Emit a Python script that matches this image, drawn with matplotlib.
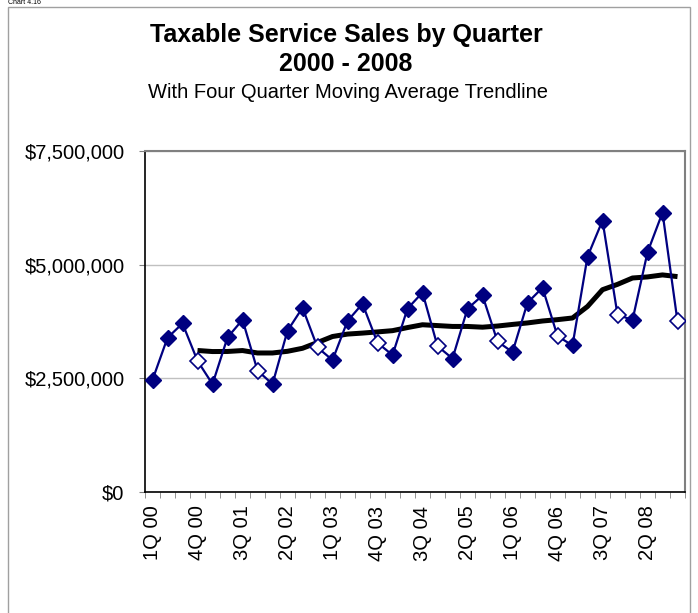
import matplotlib
matplotlib.use('Agg')
import matplotlib.pyplot as plt
from matplotlib.patches import Rectangle
import pandas as pd

# quarterly taxable service sales, 1Q 2000 .. 4Q 2008 (dollars)
quarters = [f'{q}Q {y:02d}' for y in range(0, 9) for q in range(1, 5)]
sales = [
    2462000, 3388000, 3704000, 2881000,   # 2000
    2368000, 3395000, 3785000, 2667000,   # 2001
    2368000, 3543000, 4050000, 3175000,   # 2002
    2897000, 3757000, 4138000, 3278000,   # 2003
    3007000, 4030000, 4385000, 3205000,   # 2004
    2932000, 4028000, 4321000, 3307000,   # 2005
    3073000, 4160000, 4491000, 3426000,   # 2006
    3219000, 5174000, 5968000, 3896000,   # 2007
    3779000, 5269000, 6144000, 3748000,   # 2008
]
y_ticks = [0, 2500000, 5000000, 7500000]

# four quarter moving average trendline (same as the excel trendline)
moving_avg = pd.Series(sales).rolling(4).mean()

plt.rcParams['font.family'] = ['Liberation Sans', 'DejaVu Sans']

W, H = 698, 613
fig = plt.figure(figsize=(W / 100, H / 100), dpi=100)

# outer chart border
fig.patches.append(Rectangle((8 / W, -0.05), 682 / W, 1 - 7 / H + 0.05,
                             transform=fig.transFigure, fill=False,
                             edgecolor='#a0a0a0', linewidth=1))

# caption sitting above the chart border (cut off in the source)
fig.text(8 / W, 1 - 6.5 / H, 'Chart 4.16', fontsize=5, va='bottom', ha='left')

# titles
fig.text(346 / W, 1 - 35 / H, 'Taxable Service Sales by Quarter', fontsize=18,
         fontweight='bold', ha='center', va='center')
fig.text(346 / W, 1 - 64 / H, '2000 - 2008', fontsize=18,
         fontweight='bold', ha='center', va='center')
fig.text(348 / W, 1 - 92 / H, 'With Four Quarter Moving Average Trendline',
         fontsize=14.5, ha='center', va='center')

left, right, top, bottom = 145, 685, 151, 491.7
ax = fig.add_axes([left / W, 1 - bottom / H, (right - left) / W, (bottom - top) / H])

x = list(range(len(quarters)))
fourth = [i for i in x if i % 4 == 3]
others = [i for i in x if i % 4 != 3]

ax.plot(x, sales, color='#000080', linewidth=1.6, zorder=3)
ax.plot(others, [sales[i] for i in others], linestyle='none', marker='D',
        markersize=8, color='#000080', zorder=4)
ax.plot(fourth, [sales[i] for i in fourth], linestyle='none', marker='D',
        markersize=8, markerfacecolor='white', markeredgecolor='#000080',
        markeredgewidth=1.2, zorder=4)
ax.plot(x, moving_avg, color='black', linewidth=3.6, zorder=2,
        solid_capstyle='butt')

ax.set_xlim(-0.5, len(quarters) - 0.5)
ax.set_ylim(0, 7500000)
ax.set_yticks(y_ticks)
ax.set_yticklabels([f'${v:,.0f}' for v in y_ticks], fontsize=14.5)
ax.yaxis.grid(True, color='#c0c0c0', linewidth=1)
ax.set_axisbelow(True)

# category labels every third quarter, ticks between categories
ax.set_xticks(x[::3])
ax.set_xticklabels(quarters[::3], rotation=90, fontsize=14.5)
ax.tick_params(axis='x', length=0, pad=10)
ax.set_xticks([i - 0.5 for i in range(len(quarters) + 1)], minor=True)
ax.tick_params(axis='x', which='minor', length=4.3, color='#808080')
ax.tick_params(axis='y', length=4.3, color='#808080', pad=10.5)

for side in ['left', 'bottom']:
    ax.spines[side].set_color('black')
    ax.spines[side].set_linewidth(1.2)
for side in ['top', 'right']:
    ax.spines[side].set_color('#808080')
    ax.spines[side].set_linewidth(1.5)

fig.savefig('out.png', dpi=100)
